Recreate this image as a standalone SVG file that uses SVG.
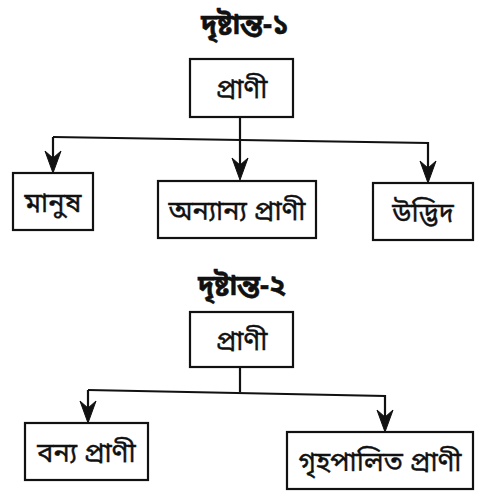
<svg xmlns="http://www.w3.org/2000/svg" xmlns:xlink="http://www.w3.org/1999/xlink" width="504" height="495" viewBox="0 0 504 495">
<style>
.box{fill:#fff;stroke:#111;stroke-width:2.2}
.t{font-family:"Noto Sans Bengali","Noto Serif Bengali","Lohit Bengali","Noto Sans",sans-serif;font-size:27px;fill:#111;text-anchor:middle;stroke:#111;stroke-width:0.4}
.title{font-weight:bold;font-size:28px}
.ln{fill:none;stroke:#111;stroke-width:2.2}
.ah{fill:#111;stroke:#111;stroke-width:1}
</style>
<defs>
<path id="arr" class="ah" d="M0,0 L-8,-22 L0,-15 L8,-22 Z"/>
</defs>
<rect width="504" height="495" fill="#fff"/>
<g id="title1"><text class="t title" x="245" y="34">দৃষ্টান্ত-১</text></g>
<g id="connectors">
<path class="ln" d="M240,117 V172"/>
<path class="ln" d="M53,137 L428,143 V175"/>
<path class="ln" d="M53,137 V165"/>
<use href="#arr" xlink:href="#arr" x="240" y="180"/>
<use href="#arr" xlink:href="#arr" x="428" y="183"/>
<use href="#arr" xlink:href="#arr" x="53" y="173"/>
<path class="ln" d="M240,367 V392"/>
<path class="ln" d="M88,390 L385,396 V424"/>
<path class="ln" d="M88,390 V415"/>
<use href="#arr" xlink:href="#arr" x="88" y="423"/>
<use href="#arr" xlink:href="#arr" x="385" y="432"/>
</g>
<g id="n1"><rect class="box" x="190" y="59" width="103" height="58"/><text class="t" x="241.5" y="98">প্রাণী</text></g>
<g id="n2"><rect class="box" x="13" y="173" width="80" height="57"/><text class="t" x="53" y="212">মানুষ</text></g>
<g id="n3"><rect class="box" x="158" y="181" width="158" height="57"/><text class="t" x="237" y="220">অন্যান্য প্রাণী</text></g>
<g id="n4"><rect class="box" x="373" y="183" width="100" height="57"/><text class="t" x="423" y="222">উদ্ভিদ</text></g>
<g id="title2"><text class="t title" x="242" y="295">দৃষ্টান্ত-২</text></g>
<g id="n5"><rect class="box" x="190" y="312" width="103" height="55"/><text class="t" x="241.5" y="350">প্রাণী</text></g>
<g id="n6"><rect class="box" x="25" y="423" width="123" height="57"/><text class="t" x="86.5" y="462">বন্য প্রাণী</text></g>
<g id="n7"><rect class="box" x="287" y="432" width="186" height="57"/><text class="t" x="380" y="471">গৃহপালিত প্রাণী</text></g>
</svg>
